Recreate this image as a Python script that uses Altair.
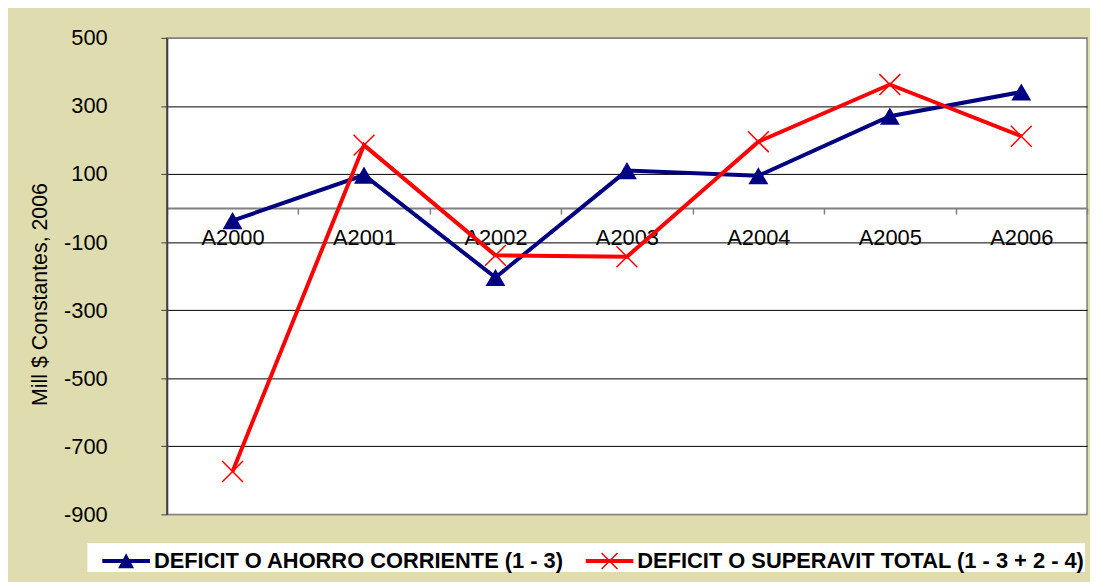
import altair as alt
import pandas as pd

years = ["A2000", "A2001", "A2002", "A2003", "A2004", "A2005", "A2006"]
ahorro = [-37, 97, -204, 110, 95, 270, 341]
total = [-774, 185, -139, -143, 195, 363, 211]
series = ["DEFICIT O AHORRO CORRIENTE (1 - 3)", "DEFICIT O SUPERAVIT TOTAL (1 - 3 + 2 - 4)"]
colors = ["#000080", "#ff0000"]
y_ticks = [-900, -700, -500, -300, -100, 100, 300, 500]
y_title = "Mill $ Constantes, 2006"

rows = []
for s, vals in zip(series, [ahorro, total]):
    for yr, v in zip(years, vals):
        rows.append({"anio": yr, "valor": v, "serie": s})
df = pd.DataFrame(rows)

W, H = 927, 480
Y_MIN, Y_MAX = -900, 500
zero_offset = -H * (0 - Y_MIN) / (Y_MAX - Y_MIN)
FONT = "Liberation Sans"
FS = 22

# legend symbols (unit = 18 px): line + marker as filled paths
blue_sym = "M-1.333,-0.111L1.333,-0.111L1.333,0.111L-1.333,0.111Z M-0.444,0.4L0,-0.433L0.444,0.4Z"
red_sym = ("M-1.333,-0.111L1.333,-0.111L1.333,0.111L-1.333,0.111Z "
           "M-0.415,-0.474L0.474,0.415L0.415,0.474L-0.474,-0.415Z "
           "M-0.474,0.415L0.415,-0.474L0.474,-0.415L-0.415,0.474Z")
x_path = "M-1,-1L1,1M-1,1L1,-1"

x_enc = alt.X(
    "anio:N", sort=years, bandPosition=0.5,
    scale=alt.Scale(type="band", domain=years, paddingInner=0, paddingOuter=0),
    axis=alt.Axis(
        orient="bottom", offset=zero_offset, title=None, grid=False, labelAngle=0,
        domainColor="#808080", domainWidth=2, tickColor="#808080", tickWidth=1.5,
        tickSize=6, tickBand="extent", labelFont=FONT, labelFontSize=FS,
        labelColor="black", labelPadding=14,
    ),
)
y_enc = alt.Y(
    "valor:Q",
    scale=alt.Scale(domain=[Y_MIN, Y_MAX], nice=False, zero=False),
    axis=alt.Axis(
        values=y_ticks, grid=True,
        gridColor={"condition": {"test": "datum.value == 500 || datum.value == -900", "value": "#808080"},
                   "value": "black"},
        gridWidth=1,
        domainColor="#404040", domainWidth=2, tickColor="#404040", tickSize=6,
        labelFont=FONT, labelFontSize=FS, labelColor="black", labelPadding=54,
        labelExpr="'' + datum.value",
        title=y_title, titleFont=FONT, titleFontSize=21.5, titleFontWeight="normal",
        titleColor="black", titleX=-127, titleY=258, titleAngle=270,
        titleAlign="center", titleBaseline="middle",
    ),
)
color_scale = alt.Scale(domain=series, range=colors)

legend_props = dict(
    orient="none", legendX=-80, legendY=509, direction="horizontal",
    fillColor="white", padding=0, symbolSize=1296, symbolStrokeWidth=0,
    symbolOffset=21, labelOffset=10, labelFont=FONT, labelFontSize=FS,
    labelFontWeight="bold", labelColor="black", labelLimit=1000,
    columnPadding=6, title=None,
)

base = alt.Chart(df)

legend_layer = base.transform_filter("false").mark_point(filled=True, opacity=1).encode(
    x=x_enc, y=y_enc,
    color=alt.Color("serie:N", scale=color_scale, legend=alt.Legend(**legend_props)),
    shape=alt.Shape("serie:N", scale=alt.Scale(domain=series, range=[blue_sym, red_sym]),
                    legend=alt.Legend(**legend_props)),
)

lines = base.mark_line(strokeWidth=4).encode(
    x=x_enc, y=y_enc,
    color=alt.Color("serie:N", scale=color_scale, legend=None),
    detail="serie:N",
)

blue_pts = base.transform_filter(alt.datum.serie == series[0]).mark_point(
    shape="triangle-up", filled=True, size=400, opacity=1
).encode(x=x_enc, y=y_enc, color=alt.Color("serie:N", scale=color_scale, legend=None))

red_pts = base.transform_filter(alt.datum.serie == series[1]).mark_point(
    shape=x_path, filled=False, size=441, strokeWidth=1.5, opacity=1
).encode(x=x_enc, y=y_enc, color=alt.Color("serie:N", scale=color_scale, legend=None))

chart = alt.layer(legend_layer, lines, blue_pts, red_pts).properties(
    width=W, height=H,
    autosize=alt.AutoSizeParams(type="none"),
    padding={"left": 160, "top": 28, "right": 3, "bottom": 66},
).configure(background="#dfddb0").configure_view(fill="white", stroke="#808080", strokeWidth=1.5)

chart.save("out.html", embed_options={"renderer": "svg", "actions": False})
